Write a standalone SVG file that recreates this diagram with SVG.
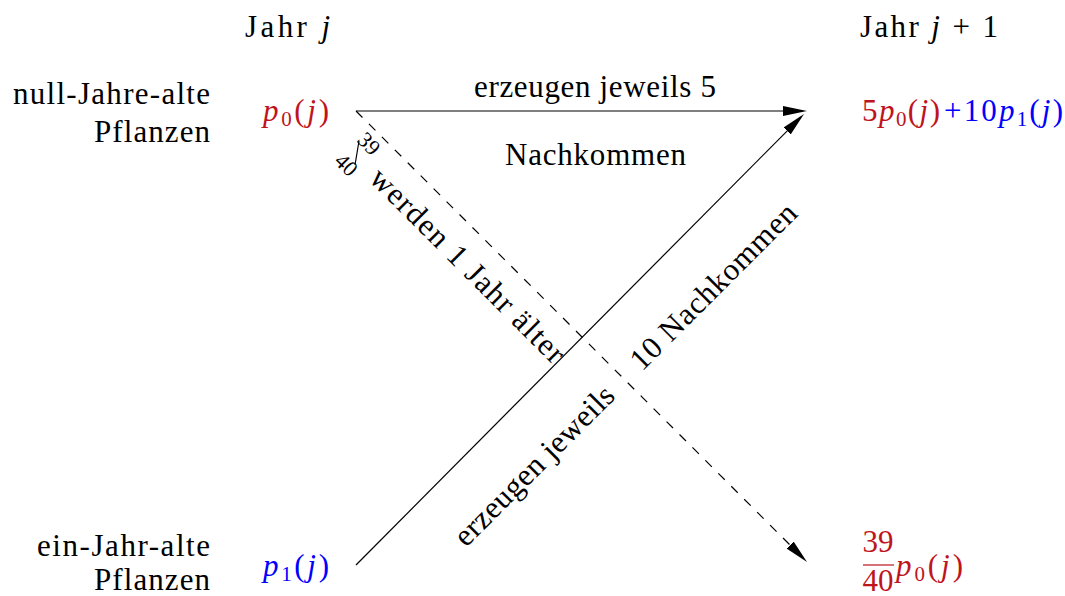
<svg xmlns="http://www.w3.org/2000/svg" width="1065" height="596" viewBox="0 0 1065 596">
<style>
text { font-family: "Liberation Serif", "DejaVu Serif", serif; font-size: 31px; fill: #000; }
.it { font-style: italic; }
.sub { font-size: 21px; }
.red { fill: #c0141c; }
.blue { fill: #0000ff; }
.frac { font-size: 22px; text-anchor: middle; }
.mid { text-anchor: middle; }
.edge { stroke: #000; stroke-width: 1.2; fill: none; }
.dash { stroke-dasharray: 9.15 9.15; }
</style>
<defs>
<marker id="arr" markerUnits="userSpaceOnUse" markerWidth="26" markerHeight="12" refX="20" refY="6" orient="auto" viewBox="0 0 26 12">
<path d="M0,1 L24,6 L0,11 z" fill="#000" stroke="none"/>
</marker>
</defs>
<g id="connectors">
<line class="edge" x1="356" y1="111" x2="803" y2="111" marker-end="url(#arr)"/>
<line class="edge" x1="356" y1="565" x2="801.2" y2="116.8" marker-end="url(#arr)"/>
<line class="edge dash" x1="356" y1="111" x2="804.2" y2="559.2" marker-end="url(#arr)"/>
</g>
<g id="jahr-j"><text x="245" y="37" textLength="85">Jahr <tspan class="it">j</tspan></text></g>
<g id="jahr-j1"><text x="860" y="37" textLength="138">Jahr <tspan class="it">j</tspan> + 1</text></g>
<g id="label-null"><text x="13" y="104" textLength="197">null-Jahre-alte</text><text x="94" y="142" textLength="116">Pflanzen</text></g>
<g id="label-ein"><text x="37" y="556" textLength="173">ein-Jahr-alte</text><text x="94" y="590" textLength="116">Pflanzen</text></g>
<g id="p0"><text class="red" x="263" y="121" textLength="66"><tspan class="it">p</tspan><tspan class="sub" dy="5">0</tspan><tspan dy="-5">(</tspan><tspan class="it">j</tspan>)</text></g>
<g id="p1"><text class="blue" x="263" y="576" textLength="66"><tspan class="it">p</tspan><tspan class="sub" dy="5">1</tspan><tspan dy="-5">(</tspan><tspan class="it">j</tspan>)</text></g>
<g id="next-0">
<text class="red" x="862" y="121" textLength="78">5<tspan class="it">p</tspan><tspan class="sub" dy="5">0</tspan><tspan dy="-5">(</tspan><tspan class="it">j</tspan>)</text>
<text class="blue" x="944" y="121" textLength="119">+10<tspan class="it">p</tspan><tspan class="sub" dy="5">1</tspan><tspan dy="-5">(</tspan><tspan class="it">j</tspan>)</text>
</g>
<g id="next-1">
<text class="red mid" x="878" y="552">39</text>
<line x1="863" y1="565" x2="894" y2="565" stroke="#c0141c" stroke-width="1.2"/>
<text class="red mid" x="878" y="591">40</text>
<text class="red" x="896" y="576" textLength="67"><tspan class="it">p</tspan><tspan class="sub" dy="5">0</tspan><tspan dy="-5">(</tspan><tspan class="it">j</tspan>)</text>
</g>
<g id="label-top">
<text x="474" y="97" textLength="242">erzeugen jeweils 5</text>
<text x="505" y="165" textLength="181">Nachkommen</text>
</g>
<g id="label-aelter">
<line x1="359" y1="141" x2="355" y2="165" stroke="#000" stroke-width="1.2"/>
<g transform="translate(368,180) rotate(45)">
<text class="frac" x="-25" y="-19">39</text>
<text class="frac" x="-26" y="12">40</text>
<text x="0" y="0" textLength="262">werden 1 Jahr älter</text>
</g>
</g>
<g id="label-diag">
<text transform="translate(466,548) rotate(-45)" x="0" y="0" textLength="213">erzeugen jeweils</text>
<text transform="translate(642,372) rotate(-45)" x="0" y="0" textLength="222">10 Nachkommen</text>
</g>
</svg>
